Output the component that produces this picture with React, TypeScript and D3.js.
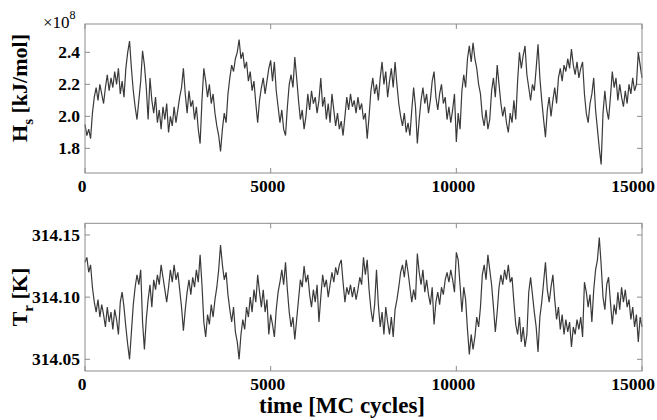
import React from "react";
import * as d3 from "d3";

const timeStep = 50;

// H_s in units of 1e8 kJ/mol, one value every 50 MC cycles
const hsValues = [
  1.95, 1.88, 1.92, 1.86, 2.02, 2.12, 2.18, 2.10, 2.20, 2.14,
  2.08, 2.18, 2.26, 2.16, 2.24, 2.18, 2.28, 2.20, 2.30, 2.14,
  2.22, 2.12, 2.30, 2.40, 2.47, 2.30, 2.16, 2.06, 1.98, 2.10,
  2.22, 2.41, 2.32, 2.18, 1.98, 2.24, 2.10, 2.02, 2.12, 1.96,
  2.04, 1.92, 2.06, 1.98, 2.08, 1.90, 2.00, 1.94, 2.06, 1.96,
  2.04, 2.12, 2.18, 2.30, 2.14, 2.02, 2.16, 2.06, 2.10, 1.98,
  2.06, 1.92, 1.83, 2.10, 2.30, 2.22, 2.12, 2.20, 2.08, 2.14,
  2.02, 1.94, 1.88, 1.78, 1.92, 2.02, 1.96, 2.14, 2.24, 2.32,
  2.28, 2.36, 2.40, 2.48, 2.36, 2.40, 2.30, 2.34, 2.22, 2.28,
  2.16, 2.22, 2.08, 1.96, 2.10, 2.18, 2.24, 2.14, 2.22, 2.30,
  2.35, 2.22, 2.34, 2.16, 2.06, 1.96, 2.04, 1.92, 1.88, 2.06,
  2.20, 2.26, 2.18, 2.37, 2.24, 2.10, 1.98, 2.04, 1.92, 2.00,
  2.14, 2.04, 2.16, 2.08, 2.12, 2.02, 2.10, 2.24, 2.06, 2.12,
  1.98, 2.08, 1.96, 2.14, 2.04, 1.94, 2.02, 1.92, 1.97, 1.88,
  2.00, 2.12, 2.04, 2.14, 2.06, 2.10, 2.02, 2.12, 2.04, 2.08,
  1.98, 2.02, 1.86, 2.00, 2.16, 2.24, 2.14, 2.20, 2.10, 2.24,
  2.34, 2.20, 2.28, 2.12, 2.22, 2.30, 2.18, 2.34, 2.20, 2.08,
  2.00, 1.94, 2.02, 1.90, 1.96, 1.88, 2.04, 2.18, 2.06, 1.83,
  1.98, 2.10, 2.18, 2.08, 2.14, 2.02, 2.10, 2.22, 2.28, 2.12,
  2.04, 2.14, 2.20, 2.08, 2.12, 1.98, 2.06, 1.96, 2.04, 2.14,
  1.84, 2.02, 1.92, 2.16, 2.26, 2.18, 2.36, 2.44, 2.34, 2.46,
  2.36, 2.30, 2.20, 2.14, 2.00, 1.94, 2.04, 1.92, 1.98, 2.16,
  2.24, 2.12, 2.32, 2.20, 2.08, 2.00, 2.06, 1.96, 1.90, 2.02,
  1.96, 2.10, 1.98, 2.22, 2.40, 2.30, 2.38, 2.44, 2.26, 2.18,
  2.10, 2.20, 2.16, 2.30, 2.45, 2.24, 2.10, 1.98, 1.87, 2.04,
  2.12, 2.00, 2.10, 2.18, 2.08, 2.24, 2.30, 2.22, 2.32, 2.28,
  2.36, 2.30, 2.42, 2.32, 2.26, 2.34, 2.24, 2.30, 2.34, 2.14,
  2.02, 1.96, 2.08, 2.14, 2.24, 2.04, 1.92, 1.80, 1.70, 2.02,
  2.16, 2.04, 1.98, 2.12, 2.28, 2.18, 2.24, 2.10, 2.20, 2.12,
  2.06, 2.16, 2.08, 2.20, 2.14, 2.24, 2.16, 2.20, 2.40, 2.32,
  2.24,
];

// T_r offset from 314.10 K, in mK, one value every 50 MC cycles
const trBase = 314.1;
const trOffsetMilliK = [
  28, 32, 20, 26, 8, -4, -12, -2, -16, -6,
  -14, -24, -8, -20, -12, -26, -10, -18, -30, -4,
  4, -8, -24, -38, -50, -28, -6, 8, 18, 10,
  22, -20, -42, -18, -2, 10, -8, 14, 6, 18,
  10, 26, 16, 6, -4, 8, 22, 12, 26, 14,
  20, 6, -8, -27, -10, 4, 14, 2, 16, 8,
  22, 12, 34, 10, -20, -32, -14, -22, -6, -16,
  -2, 8, 22, 42, 26, 14, 20, 2, -10, -20,
  -8, -28, -36, -50, -30, -18, -26, -8, -16, 0,
  -12, 6, -4, 18, 4, -8, 6, -12, -2, -30,
  -14, -22, -32, -10, 4, 12, 22, 10, 28, 6,
  -12, -24, -16, -34, -18, -2, 14, 8, 25, 12,
  18, 2, -8, 6, -4, 10, -20, 0, 18, 8,
  14, 0, 10, 20, 12, 24, 18, 26, 30, 12,
  -4, 8, 2, 10, 0, 8, -2, 6, 16, 10,
  32, 18, 30, 6, -10, -20, -6, 22, -6, -24,
  -12, -30, -8, -20, -30, -16, -32, -10, -2, 8,
  20, 26, 16, 30, 20, 8, -4, 6, -2, 35,
  20, 10, 22, 4, 14, 2, -6, 8, -22, -4,
  4, -6, 8, 2, 14, 20, 12, 22, 14, 4,
  36, 30, 10, -12, 8, -2, -26, -46, -30, -42,
  -32, -16, -24, -8, 18, 26, 14, 34, 22, 10,
  -8, -28, -12, 8, 18, 10, 22, 14, 26, 12,
  16, -4, -22, -30, -16, -36, -24, -40, -30, 4,
  16, 2, -12, -24, -44, -16, -4, 12, 28, 6,
  -4, 8, 18, -2, -18, -8, -26, -14, -30, -18,
  -28, -20, -40, -24, -30, -18, -26, -16, -32, 12,
  4, -8, 2, -20, 6, 22, 30, 48, 26, 0,
  -10, 10, 16, -4, -22, -6, -14, 4, -10, 8,
  -4, 6, -8, -2, -18, -8, -24, -14, -36, -16,
  -24,
];

const xTicks = [0, 5000, 10000, 15000];
const hsTicks = [1.8, 2.0, 2.2, 2.4];
const trTicks = [314.05, 314.1, 314.15];

const W = 657;
const H = 420;
const left = 85;
const right = 642;
const font = "'Liberation Serif', 'Times New Roman', serif";
const frameColor = "#8c8c8c";
const lineColor = "#3a3a3a";
const tickLen = 5;

const x = d3.scaleLinear().domain([0, 15000]).range([left, right]);

type PanelProps = {
  values: number[];
  top: number;
  bottom: number;
  domain: [number, number];
  yTicks: number[];
  fmt: (v: number) => string;
};

function Panel({ values, top, bottom, domain, yTicks, fmt }: PanelProps) {
  const y = d3.scaleLinear().domain(domain).range([bottom, top]);
  const line = d3
    .line<number>()
    .x((_, i) => x(i * timeStep))
    .y((v) => y(v));
  const last = xTicks[xTicks.length - 1];
  return (
    <g>
      <path d={line(values) || ""} fill="none" stroke={lineColor} strokeWidth={1.2} strokeLinejoin="miter" />
      <rect x={left} y={top} width={right - left} height={bottom - top} fill="none" stroke={frameColor} strokeWidth={1} />
      {yTicks.map((t) => (
        <g key={"y" + t}>
          <line x1={left} x2={left + tickLen} y1={y(t)} y2={y(t)} stroke={frameColor} />
          <line x1={right} x2={right - tickLen} y1={y(t)} y2={y(t)} stroke={frameColor} />
          <text x={left - 5} y={y(t)} dy="0.35em" textAnchor="end" fontFamily={font} fontWeight="bold" fontSize={17.5} fill="#000">
            {fmt(t)}
          </text>
        </g>
      ))}
      {xTicks.map((t) => (
        <g key={"x" + t}>
          <line x1={x(t)} x2={x(t)} y1={bottom} y2={bottom - tickLen} stroke={frameColor} />
          <line x1={x(t)} x2={x(t)} y1={top} y2={top + tickLen} stroke={frameColor} />
          <text
            x={t === last ? W - 2 : x(t) - 3}
            y={bottom + 19}
            textAnchor={t === last ? "end" : "middle"}
            fontFamily={font}
            fontWeight="bold"
            fontSize={17.5}
            fill="#000"
          >
            {t}
          </text>
        </g>
      ))}
    </g>
  );
}

export default function App() {
  const trValues = trOffsetMilliK.map((d) => trBase + d / 1000);
  return (
    <svg width={W} height={H} style={{ position: "absolute", left: 0, top: 0, background: "#fff" }}>
      <rect x={0} y={0} width={W} height={H} fill="#fff" />
      <Panel values={hsValues} top={24} bottom={173} domain={[1.646, 2.577]} yTicks={hsTicks} fmt={(v) => v.toFixed(1)} />
      <Panel values={trValues} top={223.3} bottom={371} domain={[314.0406, 314.1594]} yTicks={trTicks} fmt={(v) => v.toFixed(2)} />
      <text x={43} y={28} fontFamily={font} fontSize={17} fill="#000">
        ×10
        <tspan dy={-9} fontSize={12}>8</tspan>
      </text>
      <text transform="translate(27,88) rotate(-90)" textAnchor="middle" fontFamily={font} fontWeight="bold" fontSize={22} fill="#000">
        H<tspan dy={6} fontSize={15}>s</tspan>
        <tspan dy={-6}>{"  [kJ/mol]"}</tspan>
      </text>
      <text transform="translate(27,297) rotate(-90)" textAnchor="middle" fontFamily={font} fontWeight="bold" fontSize={22} fill="#000">
        T<tspan dy={6} fontSize={15}>r</tspan>
        <tspan dy={-6}>{" [K]"}</tspan>
      </text>
      <text x={342} y={413} textAnchor="middle" fontFamily={font} fontWeight="bold" fontSize={23} fill="#000">
        time [MC cycles]
      </text>
    </svg>
  );
}
